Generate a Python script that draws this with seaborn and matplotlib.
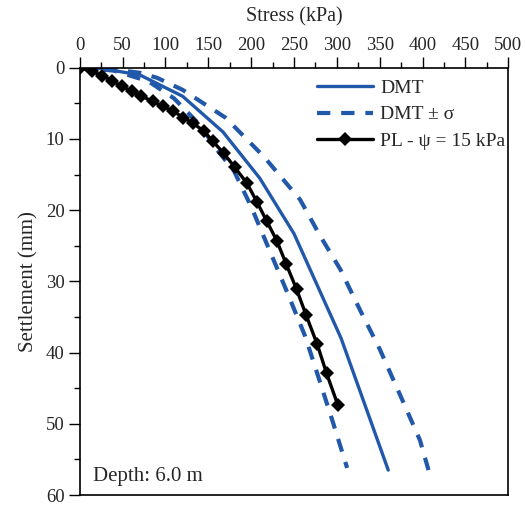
import numpy as np
import pandas as pd
import seaborn as sns
import matplotlib.pyplot as plt
from matplotlib.ticker import MultipleLocator

# ----------------------------- DATA -------------------------------------------
dmt_stress = [0, 25, 70, 120, 167, 210, 250, 305, 360]
dmt_settle = [0, 0.1, 1.0, 4.0, 9.0, 15.5, 23.3, 38.0, 56.5]

dmt_hi_stress = [0, 30, 70, 90, 120, 170, 215, 257, 280, 304, 327, 350, 374, 397, 407]
dmt_hi_settle = [0, 0.1, 0.7, 1.4, 3.1, 7.0, 12.5, 18.5, 23.5, 28.3, 34.0, 39.5, 46.0, 52.3, 56.5]

dmt_lo_stress = [0, 40, 80, 110, 140, 160, 180, 200, 222, 243, 263, 280, 296, 312]
dmt_lo_settle = [0, 0.4, 1.9, 4.3, 8.0, 11.5, 14.5, 19.5, 25.8, 31.8, 37.7, 44.0, 50.0, 56.2]

pl_stress = [0, 14, 26, 37, 49, 61, 72, 85, 97, 109, 121, 132, 145,
             155, 168, 181, 195, 207, 218, 230, 241, 253, 264, 277, 288, 301]
pl_settle = [0, 0.5, 1.1, 1.8, 2.6, 3.3, 4.0, 4.7, 5.4, 6.1, 7.0, 7.8, 8.9,
             10.3, 12.0, 14.0, 16.2, 18.9, 21.5, 24.3, 27.6, 31.1, 34.7, 38.8, 42.9, 47.3]

blue = '#2158aa'

# ----------------------------- PLOT -------------------------------------------
sns.set_style('ticks')
plt.rcParams['font.family'] = ['Liberation Serif', 'DejaVu Serif']

fig = plt.figure(figsize=(5.25, 5.05), dpi=100)
ax = fig.add_axes([0.152, 0.0198, 0.816, 0.846])

sns.lineplot(x=dmt_stress, y=dmt_settle, ax=ax, color=blue, lw=2.4,
             sort=False, label='DMT')
sns.lineplot(x=dmt_hi_stress, y=dmt_hi_settle, ax=ax, color=blue, lw=3,
             sort=False, label='DMT \u00b1 \u03c3')
sns.lineplot(x=dmt_lo_stress, y=dmt_lo_settle, ax=ax, color=blue, lw=3,
             sort=False)
sns.lineplot(x=pl_stress, y=pl_settle, ax=ax, color='black', lw=2.4,
             marker='D', markersize=7, markeredgewidth=0, sort=False,
             label='PL - \u03c8 = 15 kPa')

# dashed style for the +/- sigma envelopes
for ln in ax.lines[1:3]:
    ln.set_linestyle((0, (3.2, 2.6)))
    ln.set_dash_capstyle('butt')

ax.set_xlim(0, 500)
ax.set_ylim(60, 0)
ax.xaxis.set_major_locator(MultipleLocator(50))
ax.xaxis.set_minor_locator(MultipleLocator(25))
ax.yaxis.set_major_locator(MultipleLocator(10))
ax.yaxis.set_minor_locator(MultipleLocator(5))
ax.xaxis.tick_top()
ax.xaxis.set_label_position('top')
ax.tick_params(axis='both', which='major', direction='out', length=8, width=1,
               labelsize=13.5, color='black', pad=3)
ax.tick_params(axis='both', which='minor', direction='out', length=4, width=1,
               color='black')
ax.tick_params(axis='x', which='both', bottom=False, top=True, pad=2)

for s in ax.spines.values():
    s.set_visible(True)
    s.set_linewidth(1.2)
    s.set_color('black')

ax.set_xlabel('Stress (kPa)', fontsize=14.5, labelpad=11)
ax.set_ylabel('Settlement (mm)', fontsize=15, labelpad=5)

handles, labels = ax.get_legend_handles_labels()
leg = ax.legend(handles, labels, loc='upper right', frameon=False,
                fontsize=14, handlelength=2.9, handletextpad=0.35,
                labelspacing=0.45, borderaxespad=0.2,
                bbox_to_anchor=(1.02, 1.0))

ax.text(0.03, 0.022, 'Depth: 6.0 m', transform=ax.transAxes, fontsize=15,
        ha='left', va='bottom')

fig.savefig('out.png', dpi=100)
